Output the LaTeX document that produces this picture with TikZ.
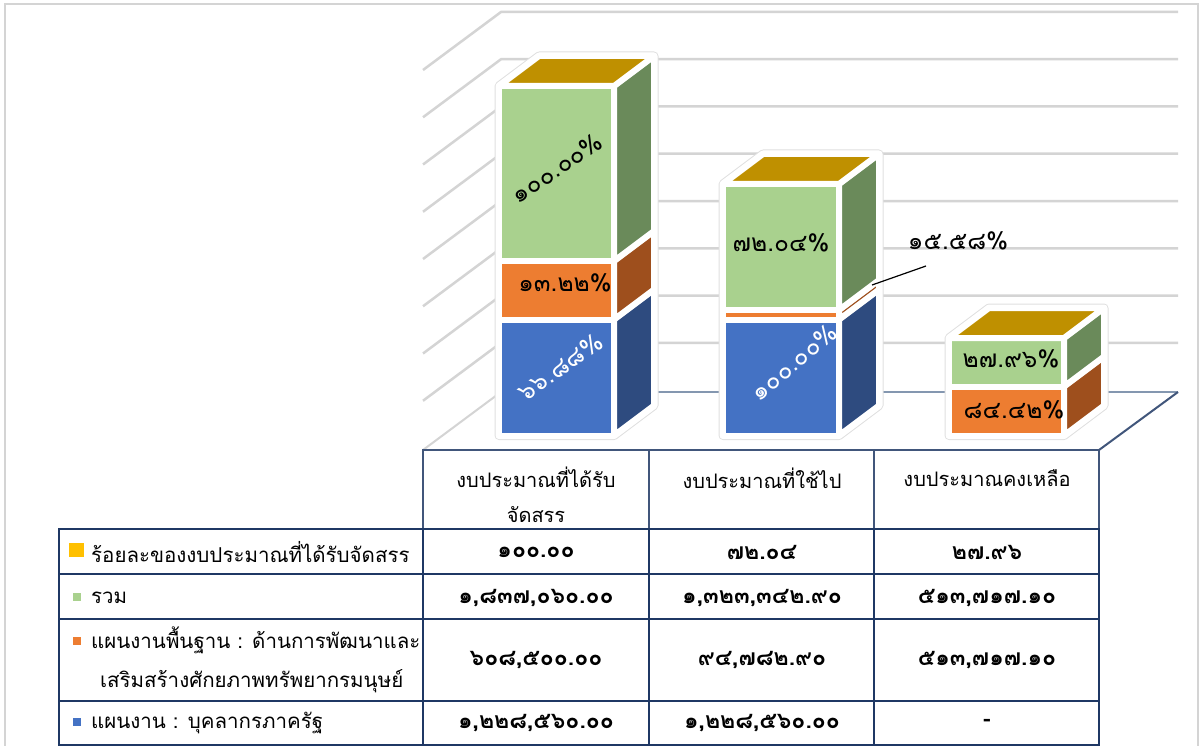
\documentclass[tikz,border=0pt]{standalone}
\usepackage{fontspec}
\setmainfont[Script=Thai]{Loma}
\definecolor{gF}{HTML}{A9D18E}
\definecolor{gS}{HTML}{6A8A5A}
\definecolor{oF}{HTML}{ED7D31}
\definecolor{oS}{HTML}{9E4F1D}
\definecolor{bF}{HTML}{4472C4}
\definecolor{bS}{HTML}{2E4B7F}
\definecolor{gold}{HTML}{BF9000}
\definecolor{navy}{HTML}{1F3864}
\definecolor{gridgray}{HTML}{D4D4D4}
\definecolor{floorline}{HTML}{8497B0}
\definecolor{yel}{HTML}{FFC000}
\tikzset{
  gridln/.style={draw=gridgray, line width=2.5pt},
  cellline/.style={draw=navy, line width=2pt},
  hdrline/.style={draw=navy!85, line width=1.2pt},
  lbl/.style={anchor=west, inner sep=0pt, font=\fontsize{20.5}{24}\selectfont},
  num/.style={inner sep=0pt, font=\fontsize{23}{26}\selectfont\bfseries},
  hdr/.style={inner sep=0pt, align=center, font=\fontsize{20}{35}\selectfont},
  barlbl/.style={inner sep=0pt, font=\fontsize{24.5}{28}\selectfont},
  face/.style={draw=white, line width=6pt, line join=round},
  halogray/.style={draw=black!12, line width=9pt, line join=round},
  halowhite/.style={draw=white, fill=white, line width=7pt, line join=round},
}
% x0 x1 ytop ybot frontcolour sidecolour
\newcommand\bseg[6]{%
  \path[face, fill=#5] (#1,#3) rectangle (#2,#4);
  \path[face, fill=#6] (#2,#3) -- ({#2+40},{#3-30}) -- ({#2+40},{#4-30}) -- (#2,#4) -- cycle;
}
% x0 x1 ytop
\newcommand\btop[3]{%
  \path[face, fill=gold] (#1,#3) -- (#2,#3) -- ({#2+40},{#3-30}) -- ({#1+40},{#3-30}) -- cycle;
}
% x0 x1 ytop ybot
\newcommand\bhalo[4]{%
  \path[halogray] (#1,#4) -- (#1,#3) -- ({#1+40},{#3-30}) -- ({#2+40},{#3-30}) -- ({#2+40},{#4-30}) -- (#2,#4) -- cycle;
  \path[halowhite] (#1,#4) -- (#1,#3) -- ({#1+40},{#3-30}) -- ({#2+40},{#3-30}) -- ({#2+40},{#4-30}) -- (#2,#4) -- cycle;
}
\begin{document}
\begin{tikzpicture}[x=1pt,y=-1pt]
\useasboundingbox (0,0) rectangle (1201,746);
\fill[white] (0,0) rectangle (1201,746);
% outer frame
\draw[draw=gridgray, line width=2.5pt] (5,746) -- (5,4) -- (1198,4) -- (1198,746);
% back wall grid
\foreach \k in {0,...,7}{
  \pgfmathsetmacro\yy{12+47.25*\k}
  \draw[gridln] (423,{\yy+58}) -- (501,\yy) -- (1178,\yy);
}
% floor
\draw[draw=gridgray, line width=2pt] (423,450) -- (501,392);
\draw[draw=floorline, line width=2.5pt] (501,392) -- (1178,392);
\draw[draw=navy!85, line width=2pt] (1099,450) -- (1178,392);
% bar 1
\bhalo{499}{614}{86}{435.5}
\bseg{499}{614}{319.5}{435.5}{bF}{bS}
\bseg{499}{614}{261}{319.5}{oF}{oS}
\bseg{499}{614}{86}{261}{gF}{gS}
\btop{499}{614}{86}
% bar 2
\bhalo{723}{839}{184}{435.5}
\bseg{723}{839}{319.5}{435.5}{bF}{bS}
\bseg{723}{839}{310}{319.5}{oF}{oS}
\bseg{723}{839}{184}{310}{gF}{gS}
\btop{723}{839}{184}
% bar 3
\bhalo{949}{1064}{338}{435.5}
\bseg{949}{1064}{386.5}{435.5}{oF}{oS}
\bseg{949}{1064}{338}{386.5}{gF}{gS}
\btop{949}{1064}{338}
% bar labels
\node[barlbl, rotate=34] (v11) at (557,168) {๑๐๐.๐๐\%};
\node[barlbl] (v12) at (565,283) {๑๓.๒๒\%};
\node[barlbl, text=white, rotate=35] (v13) at (560,367) {๖๖.๘๘\%};
\node[barlbl] (v21) at (781,243) {๗๒.๐๔\%};
\node[barlbl, text=white, rotate=40] (v23) at (794,362) {๑๐๐.๐๐\%};
\node[barlbl] (v22) at (958,241) {๑๕.๕๘\%};
\coordinate (lp) at (872,285);
\coordinate (lq) at (926,266);
\draw[line width=1.2pt] (lp) -- (lq);
\node[barlbl] (v31) at (1011,359) {๒๗.๙๖\%};
\node[barlbl] (v32) at (1014,410) {๘๔.๔๒\%};
% table lines
\draw[hdrline] (423,529) -- (423,450) -- (1099,450) -- (1099,529);
\draw[hdrline] (649,450) -- (649,529);
\draw[hdrline] (874,450) -- (874,529);
\draw[cellline] (59,529) rectangle (1099,745);
\foreach \yy in {574,619,701}{\draw[cellline] (59,\yy) -- (1099,\yy);}
\foreach \xx in {423,649,874}{\draw[cellline] (\xx,529) -- (\xx,745);}
\draw[cellline] (423,529) -- (1099,529);
% headers
\node[hdr] (h1) at (536,495) {งบประมาณที่ได้รับ\\จัดสรร};
\node[hdr] (h2) at (762,478) {งบประมาณที่ใช้ไป};
\node[hdr] (h3) at (987,478) {งบประมาณคงเหลือ};
% legend keys
\fill[yel] (69,543) rectangle (84,557);
\fill[gF] (73,593) rectangle (81,601);
\fill[oF] (73,637) rectangle (81,645);
\fill[bF] (73,718) rectangle (81,726);
% row labels
\node[lbl] (r1) at (91,552) {ร้อยละของงบประมาณที่ได้รับจัดสรร};
\node[lbl] (r2) at (91,598) {รวม};
\node[lbl] (r3a) at (91,640) {แผนงานพื้นฐาน : ด้านการพัฒนาและ};
\node[lbl] (r3b) at (100,681) {เสริมสร้างศักยภาพทรัพยากรมนุษย์};
\node[lbl] (r4) at (91,723) {แผนงาน : บุคลากรภาครัฐ};
% values
\node[num] (c11) at (536,552) {๑๐๐.๐๐};
\node[num] (c12) at (762,552) {๗๒.๐๔};
\node[num] (c13) at (987,552) {๒๗.๙๖};
\node[num] (c21) at (536,598) {๑,๘๓๗,๐๖๐.๐๐};
\node[num] (c22) at (762,598) {๑,๓๒๓,๓๔๒.๙๐};
\node[num] (c23) at (987,598) {๕๑๓,๗๑๗.๑๐};
\node[num] (c31) at (536,660) {๖๐๘,๕๐๐.๐๐};
\node[num] (c32) at (762,660) {๙๔,๗๘๒.๙๐};
\node[num] (c33) at (987,660) {๕๑๓,๗๑๗.๑๐};
\node[num] (c41) at (536,723) {๑,๒๒๘,๕๖๐.๐๐};
\node[num] (c42) at (762,723) {๑,๒๒๘,๕๖๐.๐๐};
\node[num] (c43) at (987,723) {-};
\end{tikzpicture}
\end{document}
